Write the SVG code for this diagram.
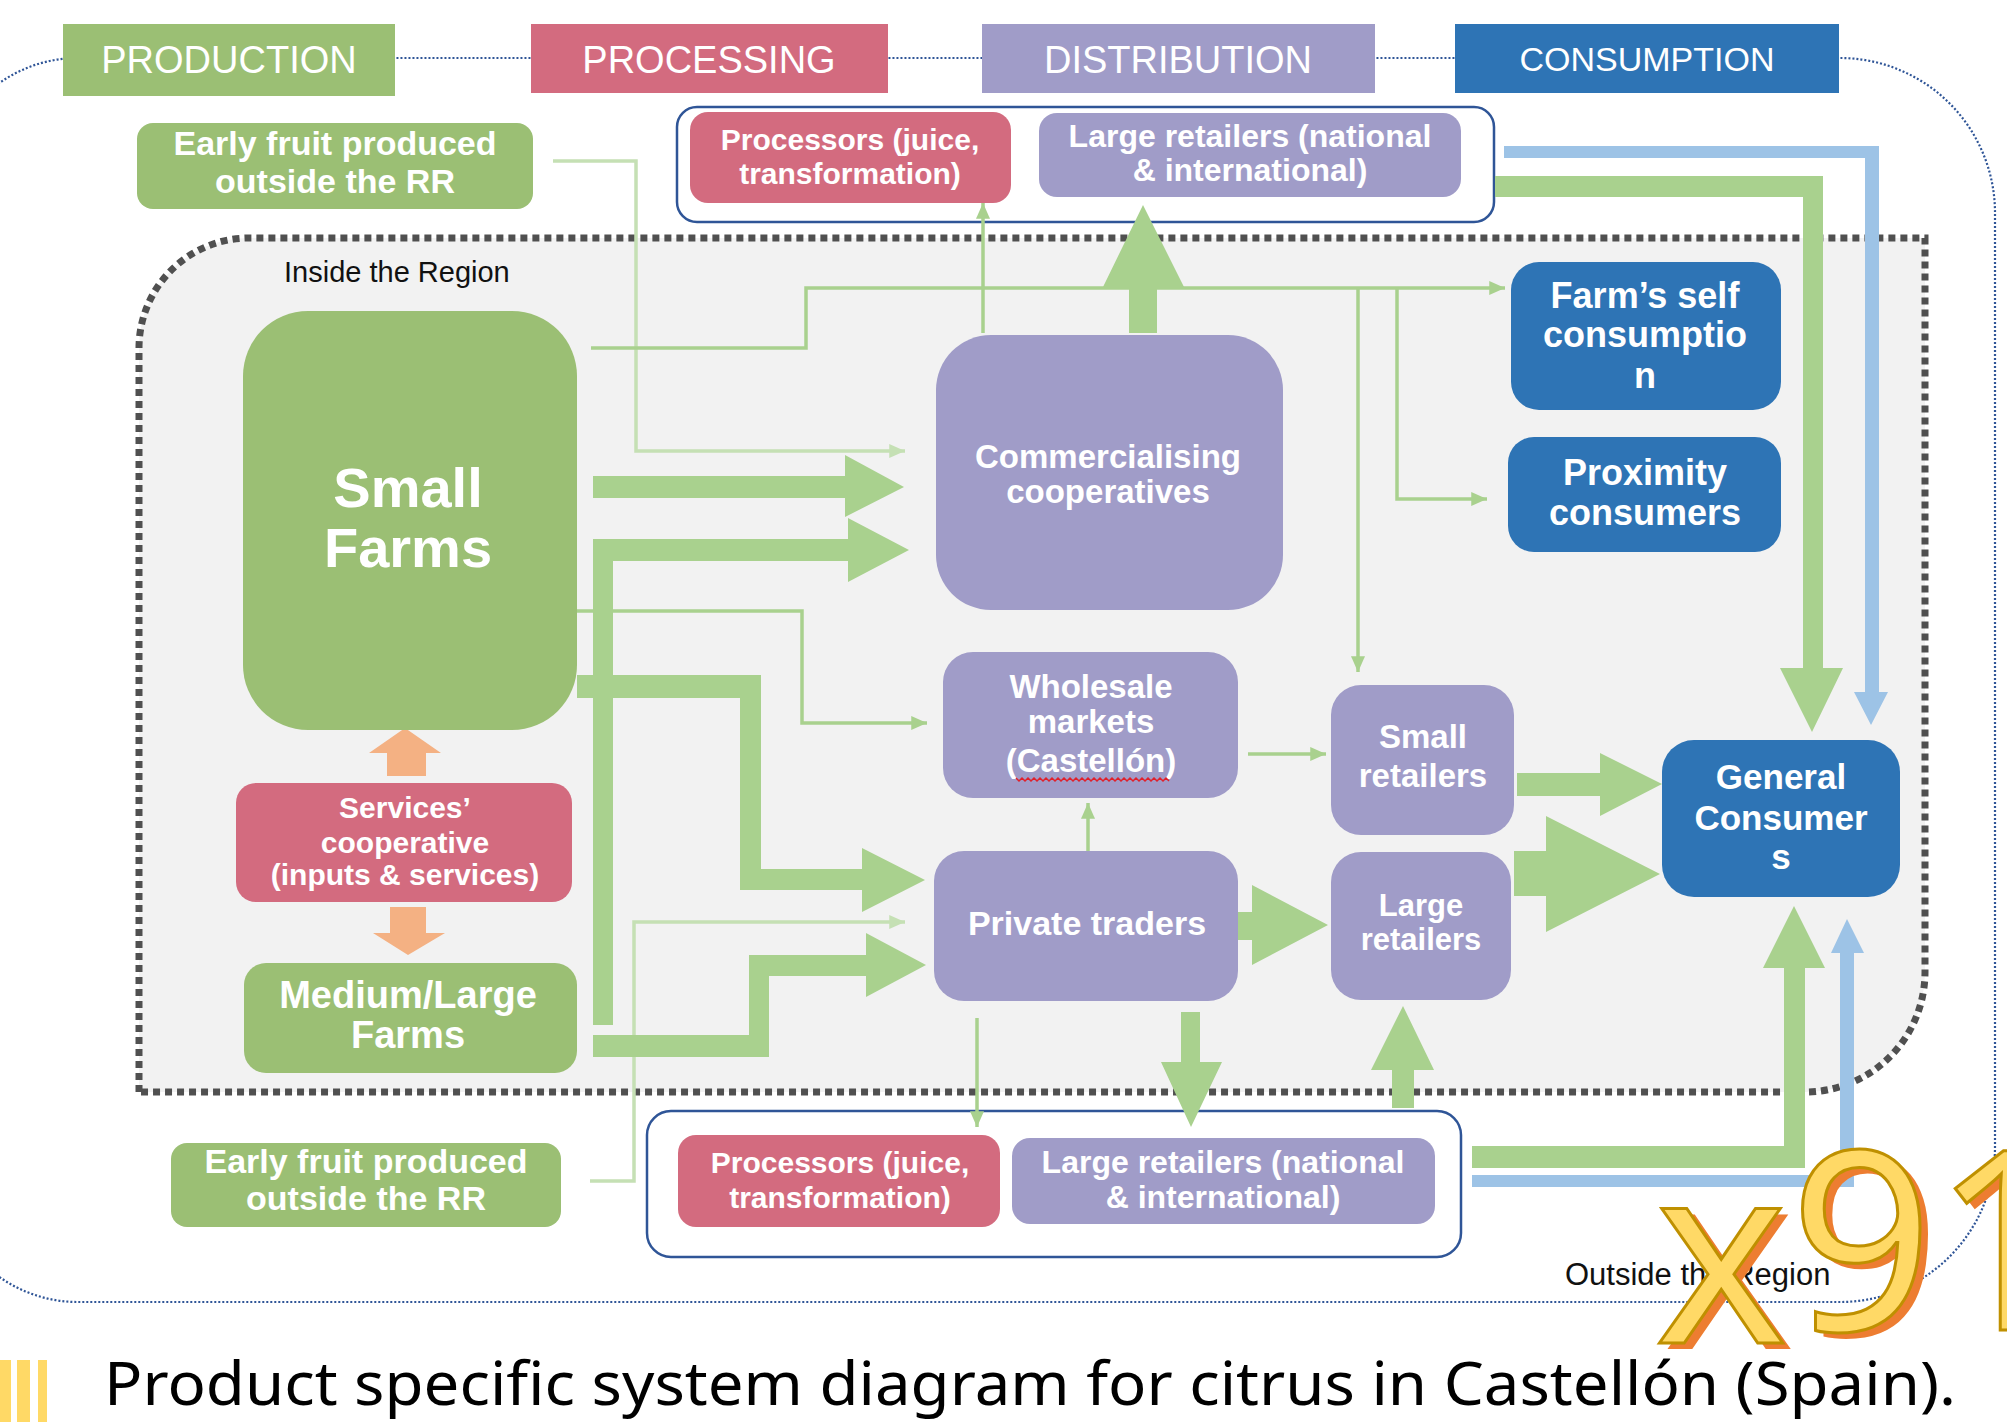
<svg xmlns="http://www.w3.org/2000/svg" width="2007" height="1422" viewBox="0 0 2007 1422">
<defs>
<style>
.hdr{font-family:"Liberation Sans",Arial,sans-serif;fill:#fff;text-anchor:middle}
.nt{font-family:"Liberation Sans",Arial,sans-serif;font-weight:bold;fill:#fff;text-anchor:middle}
.lbl{font-family:"Liberation Sans",Arial,sans-serif;fill:#111}
.g{fill:#9BBF74}.p{fill:#D36B7F}.v{fill:#A09CC8}.b{fill:#2E74B5}
.thin{fill:none;stroke:#A9D18E;stroke-width:3.5;marker-end:url(#ah)}
.thinl{fill:none;stroke:#C5E0B4;stroke-width:3.5;marker-end:url(#ahl)}
.big{fill:#A9D18E}.blu{fill:#9DC3E6}.org{fill:#F4B183}
.cont{fill:#fff;stroke:#2F5597;stroke-width:2.5}
</style>
<marker id="ah" markerWidth="4.5" markerHeight="4" refX="4.5" refY="2" orient="auto" markerUnits="strokeWidth"><path d="M0,0 L4.5,2 L0,4 Z" fill="#A9D18E"/></marker>
<marker id="ahl" markerWidth="4.5" markerHeight="4" refX="4.5" refY="2" orient="auto" markerUnits="strokeWidth"><path d="M0,0 L4.5,2 L0,4 Z" fill="#C5E0B4"/></marker>
</defs>
<rect width="2007" height="1422" fill="#fff"/>

<g id="outside-region">
<path d="M-58,194 A136,136 0 0 1 78,58 L1840,58 A155,155 0 0 1 1995,213 L1995,1147 A155,155 0 0 1 1840,1302 L78,1302 A136,136 0 0 1 -58,1166 Z" fill="none" stroke="#2F5597" stroke-width="2.2" stroke-dasharray="2 2"/>
<text class="lbl" x="1565" y="1285" font-size="31">Outside the Region</text>
</g>

<g id="inside-region">
<path d="M139,1092 V348 A110,110 0 0 1 249,238 H1925 V972 A120,120 0 0 1 1805,1092 Z" fill="#F2F2F2" stroke="#505050" stroke-width="7" stroke-dasharray="7 5"/>
<text class="lbl" x="284" y="282" font-size="29">Inside the Region</text>
</g>

<g id="headers">
<rect class="g" x="63" y="24" width="332" height="72"/>
<text class="hdr" x="229" y="73" font-size="38">PRODUCTION</text>
<rect class="p" x="531" y="24" width="357" height="69"/>
<text class="hdr" x="709" y="73" font-size="38">PROCESSING</text>
<rect class="v" x="982" y="24" width="393" height="69"/>
<text class="hdr" x="1178" y="73" font-size="38">DISTRIBUTION</text>
<rect class="b" x="1455" y="24" width="384" height="69"/>
<text class="hdr" x="1647" y="71" font-size="34">CONSUMPTION</text>
</g>

<g id="container-top"><rect class="cont" x="677" y="107" width="817" height="115" rx="20"/></g>
<g id="container-bottom"><rect class="cont" x="647" y="1111" width="814" height="146" rx="24"/></g>

<g id="connectors">
<polyline class="thinl" points="553,161 636,161 636,451 905,451"/>
<polyline class="thin" points="591,348 806,348 806,288 1505,288"/>
<polyline class="thin" points="983,333 983,203"/>
<polyline class="thin" points="1358,288 1358,672"/>
<polyline class="thin" points="1397,288 1397,499 1487,499"/>
<polyline class="thin" points="577,611 802,611 802,723 927,723"/>
<polyline class="thinl" points="590,1181 634,1181 634,922 905,922"/>
<polyline class="thin" points="977,1018 977,1127"/>
<polyline class="thin" points="1248,754 1326,754"/>
<polyline class="thin" points="1088,852 1088,803"/>
<polygon class="big" points="1129,333 1157,333 1157,287 1184,287 1143,205 1103,287 1129,287"/>
<polygon class="big" points="593,476 845,476 845,455 904,487 845,517 845,498 593,498"/>
<polygon class="big" points="593,1025 593,539 848,539 848,518 909,550 848,582 848,561 613,561 613,1025"/>
<polygon class="big" points="577,675 761,675 761,869 862,869 862,848 925,880 862,912 862,890 740,890 740,698 577,698"/>
<polygon class="big" points="593,1035 749,1035 749,955 866,955 866,933 926,965 866,997 866,976 769,976 769,1057 593,1057"/>
<polygon class="big" points="1181,1012 1200,1012 1200,1062 1222,1062 1191,1127 1161,1062 1181,1062"/>
<polygon class="big" points="1392,1108 1414,1108 1414,1070 1434,1070 1403,1006 1371,1070 1392,1070"/>
<polygon class="big" points="1238,912 1252,912 1252,885 1328,925 1252,965 1252,940 1238,940"/>
<polygon class="big" points="1517,773 1600,773 1600,753 1662,784 1600,816 1600,796 1517,796"/>
<polygon class="big" points="1514,851 1546,851 1546,816 1660,874 1546,932 1546,896 1514,896"/>
<polygon class="big" points="1495,176 1823,176 1823,668 1843,668 1812,732 1780,668 1803,668 1803,197 1495,197"/>
<polygon class="blu" points="1504,146 1879,146 1879,692 1888,692 1871,725 1854,692 1865,692 1865,158 1504,158"/>
<polygon class="big" points="1472,1168 1805,1168 1805,968 1825,968 1794,906 1763,968 1784,968 1784,1146 1472,1146"/>
<polygon class="blu" points="1472,1187 1854,1187 1854,953 1864,953 1847,919 1831,953 1840,953 1840,1175 1472,1175"/>
<polygon class="org" points="387,776 426,776 426,753 441,753 405,728 369,753 387,753"/>
<polygon class="org" points="390,907 426,907 426,933 445,933 408,955 373,933 390,933"/>
</g>

<g id="early-fruit-top"><rect class="g" x="137" y="123" width="396" height="86" rx="16"/>
<text class="nt" font-size="34" x="335" y="155">Early fruit produced</text><text class="nt" font-size="34" x="335" y="193">outside the RR</text></g>

<g id="processors-top"><rect class="p" x="690" y="112" width="321" height="91" rx="18"/>
<text class="nt" font-size="30" x="850" y="150">Processors (juice,</text><text class="nt" font-size="30" x="850" y="184">transformation)</text></g>

<g id="large-retailers-top"><rect class="v" x="1039" y="113" width="422" height="84" rx="18"/>
<text class="nt" font-size="32" x="1250" y="147">Large retailers (national</text><text class="nt" font-size="32" x="1250" y="181">&amp; international)</text></g>

<g id="small-farms"><rect class="g" x="243" y="311" width="334" height="419" rx="65"/>
<text class="nt" font-size="56" x="408" y="507">Small</text><text class="nt" font-size="56" x="408" y="567">Farms</text></g>

<g id="commercialising"><rect class="v" x="936" y="335" width="347" height="275" rx="55"/>
<text class="nt" font-size="33" x="1108" y="468">Commercialising</text><text class="nt" font-size="33" x="1108" y="503">cooperatives</text></g>

<g id="farm-self"><rect class="b" x="1511" y="262" width="270" height="148" rx="28"/>
<text class="nt" font-size="36" x="1645" y="308">Farm’s self</text><text class="nt" font-size="36" x="1645" y="347">consumptio</text><text class="nt" font-size="36" x="1645" y="388">n</text></g>

<g id="proximity"><rect class="b" x="1508" y="437" width="273" height="115" rx="26"/>
<text class="nt" font-size="36" x="1645" y="485">Proximity</text><text class="nt" font-size="36" x="1645" y="525">consumers</text></g>

<g id="wholesale"><rect class="v" x="943" y="652" width="295" height="146" rx="30"/>
<text class="nt" font-size="33" x="1091" y="698">Wholesale</text><text class="nt" font-size="33" x="1091" y="733">markets</text><text class="nt" font-size="33" x="1091" y="772">(Castellón)</text>
<polyline points="1016,778 1019,781 1022,778 1025,781 1028,778 1031,781 1034,778 1037,781 1040,778 1043,781 1046,778 1049,781 1052,778 1055,781 1058,778 1061,781 1064,778 1067,781 1070,778 1073,781 1076,778 1079,781 1082,778 1085,781 1088,778 1091,781 1094,778 1097,781 1100,778 1103,781 1106,778 1109,781 1112,778 1115,781 1118,778 1121,781 1124,778 1127,781 1130,778 1133,781 1136,778 1139,781 1142,778 1145,781 1148,778 1151,781 1154,778 1157,781 1160,778 1163,781 1166,778 1169,781" fill="none" stroke="#E0202A" stroke-width="1.5"/></g>

<g id="small-retailers"><rect class="v" x="1331" y="685" width="183" height="150" rx="30"/>
<text class="nt" font-size="33" x="1423" y="748">Small</text><text class="nt" font-size="33" x="1423" y="787">retailers</text></g>

<g id="private-traders"><rect class="v" x="934" y="851" width="304" height="150" rx="30"/>
<text class="nt" font-size="34" x="1087" y="935">Private traders</text></g>

<g id="large-retailers-in"><rect class="v" x="1331" y="852" width="180" height="148" rx="30"/>
<text class="nt" font-size="31" x="1421" y="916">Large</text><text class="nt" font-size="31" x="1421" y="950">retailers</text></g>

<g id="general-consumers"><rect class="b" x="1662" y="740" width="238" height="157" rx="32"/>
<text class="nt" font-size="35" x="1781" y="789">General</text><text class="nt" font-size="35" x="1781" y="830">Consumer</text><text class="nt" font-size="35" x="1781" y="869">s</text></g>

<g id="services"><rect class="p" x="236" y="783" width="336" height="119" rx="20"/>
<text class="nt" font-size="30" x="405" y="818">Services’</text><text class="nt" font-size="30" x="405" y="853">cooperative</text><text class="nt" font-size="30" x="405" y="885">(inputs &amp; services)</text></g>

<g id="medium-large"><rect class="g" x="244" y="963" width="333" height="110" rx="22"/>
<text class="nt" font-size="38" x="408" y="1008">Medium/Large</text><text class="nt" font-size="38" x="408" y="1048">Farms</text></g>

<g id="early-fruit-bottom"><rect class="g" x="171" y="1143" width="390" height="84" rx="16"/>
<text class="nt" font-size="34" x="366" y="1173">Early fruit produced</text><text class="nt" font-size="34" x="366" y="1210">outside the RR</text></g>

<g id="processors-bottom"><rect class="p" x="678" y="1135" width="322" height="92" rx="18"/>
<text class="nt" font-size="30" x="840" y="1173">Processors (juice,</text><text class="nt" font-size="30" x="840" y="1208">transformation)</text></g>

<g id="large-retailers-bottom"><rect class="v" x="1012" y="1138" width="423" height="86" rx="18"/>
<text class="nt" font-size="32" x="1223" y="1173">Large retailers (national</text><text class="nt" font-size="32" x="1223" y="1208">&amp; international)</text></g>

<g id="caption">
<rect x="0" y="1360" width="11" height="62" fill="#FFD966"/>
<rect x="17" y="1360" width="13" height="62" fill="#FFD966"/>
<rect x="38" y="1360" width="9" height="62" fill="#FFD966"/>
<text x="104" y="1405" font-family="'Noto Sans','Open Sans',sans-serif" font-size="60" fill="#000" textLength="1852" lengthAdjust="spacingAndGlyphs">Product specific system diagram for citrus in Castellón (Spain).</text>
</g>

<g id="badge" font-family="'Noto Sans','Open Sans',sans-serif" font-size="250">
<text x="1663" y="1349" fill="#ED7D31">x</text>
<text x="1798" y="1336" fill="#ED7D31">91</text>
<text x="1655" y="1343" fill="#FFD966" stroke="#BF9000" stroke-width="3">x</text>
<text x="1790" y="1330" fill="#FFD966" stroke="#BF9000" stroke-width="3">91</text>
</g>
</svg>
